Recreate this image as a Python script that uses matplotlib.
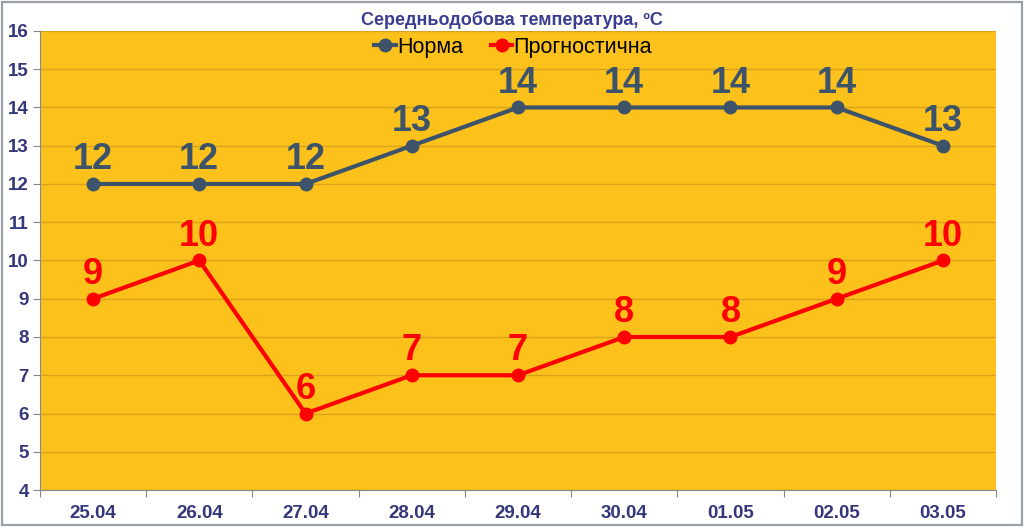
import numpy as np
import matplotlib
matplotlib.use("Agg")
import matplotlib.pyplot as plt
from matplotlib.patches import Rectangle

dates = ["25.04", "26.04", "27.04", "28.04", "29.04", "30.04", "01.05", "02.05", "03.05"]
norma = [12, 12, 12, 13, 14, 14, 14, 14, 13]
prognoz = [9, 10, 6, 7, 7, 8, 8, 9, 10]

plt.rcParams['font.family'] = ['Liberation Sans', 'DejaVu Sans']

fig = plt.figure(figsize=(10.24, 5.27), dpi=100)
fig.patch.set_facecolor('white')
fig.patches.append(Rectangle((0.002, 0.003), 0.996, 0.994, transform=fig.transFigure,
                             fill=False, edgecolor='#9aa0a6', linewidth=1.6))

ax = fig.add_axes([0.039, 0.0702, 0.9337, 0.871])
ax.set_facecolor('#fcc21b')

x = np.arange(len(dates))
c_norm = '#3d5369'
c_prog = '#ff0000'

ax.plot(x, norma, color=c_norm, lw=3, marker='o', ms=9, label='Норма', zorder=3)
ax.plot(x, prognoz, color=c_prog, lw=3, marker='o', ms=9, label='Прогностична', zorder=3)

for xi, v in zip(x, norma):
    ax.annotate(str(v), (xi, v), xytext=(0, 5), textcoords='offset points',
                ha='center', va='bottom', fontsize=26, fontweight='bold', color=c_norm)
for xi, v in zip(x, prognoz):
    ax.annotate(str(v), (xi, v), xytext=(0, 5), textcoords='offset points',
                ha='center', va='bottom', fontsize=26, fontweight='bold', color=c_prog)

ax.set_xlim(-0.5, len(dates) - 0.5)
ax.set_ylim(4, 16)
ax.set_yticks(range(4, 17))
ax.set_xticks(np.arange(-0.5, len(dates), 1.0))
ax.set_xticklabels([])
ax.set_xticks(x, minor=True)
ax.set_xticklabels(dates, minor=True)
ax.tick_params(axis='x', which='minor', length=0, pad=11)
ax.tick_params(axis='x', which='major', length=5, color='#888888')
ax.tick_params(axis='y', length=5, color='#888888', pad=3)
for lab in ax.get_xticklabels(minor=True) + ax.get_yticklabels():
    lab.set_fontsize(13.5)
    lab.set_fontweight('bold')
    lab.set_color('#34387a')

ax.grid(axis='y', color='#d8a21e', lw=1, zorder=0)
for s in ['top', 'right']:
    ax.spines[s].set_visible(False)
ax.spines['left'].set_color('#888888')
ax.spines['bottom'].set_color('#888888')

ax.legend(loc='upper center', bbox_to_anchor=(0.495, 1.03), ncol=2, frameon=False,
          fontsize=15.5, handlelength=1.0, handletextpad=0.05, columnspacing=1.3)

fig.text(0.5, 0.963, 'Середньодобова температура, ºС', ha='center', va='center',
         fontsize=13, fontweight='bold', color='#3b3d8f')

fig.savefig('out.png', dpi=100)
